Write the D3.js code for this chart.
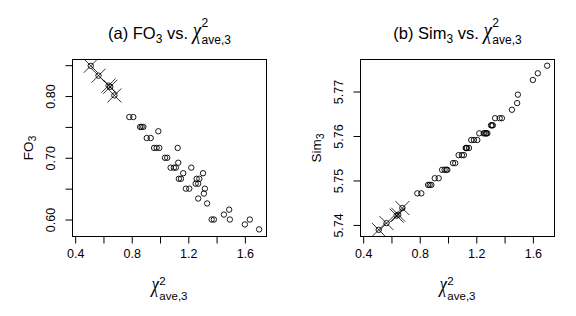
<!DOCTYPE html>
<html>
<head>
<meta charset="utf-8">
<script src="https://cdn.jsdelivr.net/npm/d3@7"></script>
<style>
  body { margin: 0; background: #fff; }
  text { font-family: "Liberation Sans", Arial, sans-serif; fill: #000; white-space: pre; }
</style>
</head>
<body>
<div id="chart"></div>
<script>
// chi-square (ave,3) values, shared by both panels
var chi = [0.510, 0.565, 0.636, 0.648, 0.677,
  0.783, 0.811,
  0.859, 0.870, 0.882,
  0.906, 0.934,
  0.958, 0.976, 0.988, 0.995,
  1.035, 1.051,
  1.075, 1.098, 1.112,
  1.125, 1.129, 1.133, 1.148,
  1.164, 1.183, 1.207, 1.221,
  1.252, 1.259, 1.270, 1.270, 1.278,
  1.304, 1.310, 1.317,
  1.333, 1.365, 1.381,
  1.452, 1.489, 1.494,
  1.600, 1.635, 1.701];

var fo3 = [0.849, 0.833, 0.817, 0.815, 0.801,
  0.766, 0.766,
  0.750, 0.750, 0.750,
  0.732, 0.732,
  0.716, 0.716, 0.743, 0.716,
  0.700, 0.700,
  0.684, 0.684, 0.684,
  0.716, 0.692, 0.666, 0.666,
  0.675, 0.650, 0.650, 0.684,
  0.658, 0.666, 0.658, 0.634, 0.666,
  0.675, 0.642, 0.650,
  0.626, 0.600, 0.600,
  0.608, 0.616, 0.600,
  0.592, 0.600, 0.584];

var sim3 = [5.7389, 5.7404, 5.7421, 5.7423, 5.7438,
  5.7471, 5.7471,
  5.7490, 5.7490, 5.7490,
  5.7505, 5.7505,
  5.7524, 5.7524, 5.7524, 5.7524,
  5.7539, 5.7539,
  5.7557, 5.7557, 5.7557,
  5.7573, 5.7573, 5.7573, 5.7573,
  5.7591, 5.7591, 5.7591, 5.7606,
  5.7606, 5.7606, 5.7606, 5.7606, 5.7606,
  5.7624, 5.7624, 5.7624,
  5.7640, 5.7640, 5.7640,
  5.7659, 5.7674, 5.7693,
  5.7726, 5.7741, 5.7758];

// first five points are marked with a cross
var crossed = [0, 1, 2, 3, 4];

var xTicks = [0.4, 0.6, 0.8, 1.0, 1.2, 1.4, 1.6];
var xTickLabels = ["0.4", "", "0.8", "", "1.2", "", "1.6"];
var foTicks = [0.60, 0.65, 0.70, 0.75, 0.80, 0.85];
var foTickLabels = ["0.60", "", "0.70", "", "0.80", ""];
var simTicks = [5.74, 5.75, 5.76, 5.77];
var simTickLabels = ["5.74", "5.75", "5.76", "5.77"];

var W = 576, H = 316;
var svg = d3.select("#chart").append("svg")
    .attr("width", W)
    .attr("height", H);
svg.append("rect").attr("width", W).attr("height", H).attr("fill", "#fff");

// draw a plotmath-like label: pieces laid out left to right,
// a piece with stack:true starts at the same x as the previous one
function mathText(parent, cx, cy, pieces, rotate) {
    var g = parent.append("g");
    var x = 0, prevStart = 0;
    pieces.forEach(function (p) {
        var t = g.append("text")
            .style("font-size", p.size + "px")
            .text(p.text);
        var start = (p.stack ? prevStart : x) + (p.dx || 0);
        var w;
        if (p.chi) {
            // symbol-font chi is taller than the usual glyph: stretch it
            t.style("font-family", "'Liberation Serif', serif").style("font-style", "italic")
                .attr("transform", "translate(" + start + "," + (p.dy || 0) + ") scale(1.2,1.6)");
            w = t.node().getComputedTextLength() * 1.2;
        } else {
            t.attr("x", start).attr("y", p.dy || 0);
            w = t.node().getComputedTextLength();
        }
        x = p.stack ? Math.max(x, start + w) : start + w;
        prevStart = start;
    });
    g.attr("transform", "translate(" + cx + "," + cy + ")" + (rotate ? " rotate(-90)" : "") +
        " translate(" + (-x / 2) + ",0)");
    return g;
}

function chiPieces(chiSize, sub, up, down) {
    return [
        {text: "\u03C7", size: chiSize, chi: true},
        {text: "2", size: sub, dy: -up, dx: 0.5},
        {text: "ave,3", size: sub, dy: down, stack: true}
    ];
}

function drawPanel(opt) {
    var x = d3.scaleLinear().domain([0.381, 1.753]).range([opt.left, opt.left + 194]);
    var y = d3.scaleLinear().domain(opt.yDomain).range([236.5, 59.5]);
    var g = svg.append("g");

    g.append("g")
        .attr("transform", "translate(0,236.5)")
        .call(d3.axisBottom(x).tickValues(xTicks).tickSizeOuter(0).tickSize(7).tickPadding(6)
            .tickFormat(function (d, i) { return xTickLabels[i]; }))
        .call(function (a) { a.select(".domain").remove(); })
        .call(function (a) {
            a.selectAll("line").attr("stroke", "#000");
            a.selectAll("text").style("font-size", "12.5px").attr("fill", "#000")
                .style("font-family", "'Liberation Sans', Arial, sans-serif");
        });

    var yAxis = g.append("g")
        .attr("transform", "translate(" + opt.left + ",0)")
        .call(d3.axisLeft(y).tickValues(opt.ticks).tickSizeOuter(0).tickSize(7)
            .tickFormat(function (d, i) { return opt.tickLabels[i]; }))
        .call(function (a) { a.select(".domain").remove(); });
    yAxis.selectAll("line").attr("stroke", "#000");
    yAxis.selectAll("text")
        .style("font-size", "12.5px").attr("fill", "#000")
        .style("font-family", "'Liberation Sans', Arial, sans-serif")
        .attr("x", 0).attr("dy", 0)
        .attr("text-anchor", "middle")
        .attr("transform", "translate(-18,0) rotate(-90)");

    // box
    g.append("rect")
        .attr("x", opt.left).attr("y", 59.5)
        .attr("width", 194).attr("height", 177)
        .attr("fill", "none").attr("stroke", "#000").attr("stroke-width", 1);

    // points
    g.selectAll("circle.pt")
        .data(chi)
        .enter()
        .append("circle")
        .attr("class", "pt")
        .attr("cx", function (d) { return x(d); })
        .attr("cy", function (d, i) { return y(opt.values[i]); })
        .attr("r", 2.7)
        .attr("fill", "none")
        .attr("stroke", "#000")
        .attr("stroke-width", 0.9);

    // crosses
    crossed.forEach(function (i) {
        var cx = x(chi[i]), cy = y(opt.values[i]), s = 7;
        g.append("path")
            .attr("d", "M" + (cx - s) + "," + (cy - s) + "L" + (cx + s) + "," + (cy + s) +
                "M" + (cx - s) + "," + (cy + s) + "L" + (cx + s) + "," + (cy - s))
            .attr("stroke", "#000").attr("stroke-width", 0.8);
    });

    var cx = opt.left + 97;
    // title
    mathText(svg, cx, 39, [
        {text: opt.titleA, size: 16.5},
        {text: opt.titleSub, size: 12, dy: 3.5},
        {text: " vs. ", size: 16.5}
    ].concat(chiPieces(16, 12, 12, 5)));

    // x label
    mathText(svg, cx, 292, chiPieces(14, 11.5, 7, 8));

    // y label
    mathText(svg, opt.left - 40, 148, [
        {text: opt.yName, size: 13.5},
        {text: "3", size: 10.5, dy: 3}
    ], true);
}

drawPanel({
    left: 72.5,
    yDomain: [0.5725, 0.8592],
    ticks: foTicks,
    tickLabels: foTickLabels,
    values: fo3,
    titleA: "(a) FO",
    titleSub: "3",
    yName: "FO"
});

drawPanel({
    left: 360.5,
    yDomain: [5.7374, 5.7772],
    ticks: simTicks,
    tickLabels: simTickLabels,
    values: sim3,
    titleA: "(b) Sim",
    titleSub: "3",
    yName: "Sim"
});
</script>
</body>
</html>
